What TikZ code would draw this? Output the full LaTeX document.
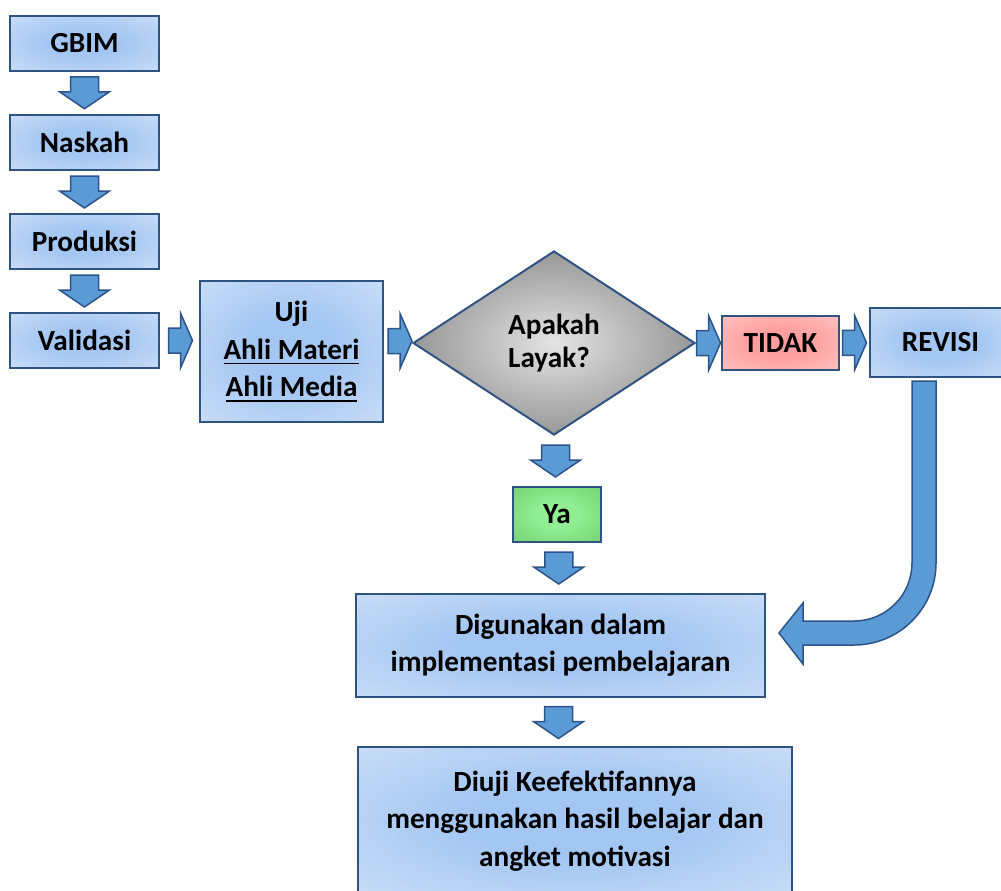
\documentclass[tikz,border=0pt]{standalone}
\usepackage{fontspec}
\setmainfont{Carlito}
\usetikzlibrary{calc, shapes.geometric}
\definecolor{boxline}{RGB}{47,84,130}
\definecolor{boxin}{RGB}{163,198,242}
\definecolor{boxout}{RGB}{224,234,249}
\definecolor{arrowfill}{RGB}{91,155,213}
\definecolor{arrowline}{RGB}{44,83,138}
\definecolor{pinkin}{RGB}{255,158,158}
\definecolor{pinkout}{RGB}{255,214,214}
\definecolor{greenin}{RGB}{146,238,146}
\definecolor{greenout}{RGB}{98,192,98}
\definecolor{greyin}{RGB}{228,228,228}
\definecolor{greyout}{RGB}{118,118,118}

\pgfdeclareradialshading{boxglow}{\pgfpoint{0bp}{0bp}}{color(0bp)=(boxin); color(12bp)=(boxin); color(50bp)=(boxout)}
\pgfdeclareradialshading{pinkglow}{\pgfpoint{0bp}{0bp}}{color(0bp)=(pinkin); color(12bp)=(pinkin); color(50bp)=(pinkout)}
\pgfdeclareradialshading{greenglow}{\pgfpoint{0bp}{0bp}}{color(0bp)=(greenin); color(12bp)=(greenin); color(50bp)=(greenout)}
\pgfdeclareradialshading{greyglow}{\pgfpoint{0bp}{0bp}}{color(0bp)=(greyin); color(36bp)=(greyout); color(50bp)=(greyout)}

\newcommand{\thickul}[1]{\setbox0\hbox{#1}\rlap{\rule[-2.6pt]{\wd0}{0.9pt}}\box0}

\begin{document}
\begin{tikzpicture}[x=0.5pt, y=-0.5pt,
    stepbox/.style={draw=boxline, line width=1pt, shading=boxglow, inner sep=0pt, align=center, font=\bfseries\fontsize{14.6}{18.6}\selectfont},
    smallbox/.style={stepbox, minimum width=74.5pt, minimum height=27.5pt},
    blkarrow/.style={draw=arrowline, line width=0.75pt, fill=arrowfill},
    downarr/.pic={\draw[blkarrow] (-14,-16) -- (-14,-1) -- (-25,-1) -- (0,16) -- (25,-1) -- (14,-1) -- (14,-16) -- cycle;},
    rightarr/.pic={\draw[blkarrow] (-12,-12.5) -- (0,-12.5) -- (0,-27.5) -- (12,0) -- (0,27.5) -- (0,12.5) -- (-12,12.5) -- cycle;}]
    \useasboundingbox (0,0) rectangle (1001,890);
    \clip (0,0) rectangle (1001,890);

    % Left column
    \node[smallbox] (gbim) at (84.5,43) {GBIM};
    \node[smallbox] (naskah) at (84.5,142.5) {Naskah};
    \node[smallbox] (produksi) at (84.5,241.5) {Produksi};
    \node[smallbox] (validasi) at (84.5,340.5) {Validasi};

    % Test and decision
    \node[stepbox, minimum width=91.5pt, minimum height=70.5pt] (uji) at (291.5,351.5) {Uji\\\thickul{Ahli Materi}\\\thickul{Ahli Media}};
    \node[diamond, aspect=1.5, draw=boxline, line width=1pt, shading=greyglow, inner sep=0pt, minimum width=141pt, minimum height=92pt, align=left, font=\bfseries\fontsize{14.6}{16.5}\selectfont] (layak) at (554,343) {Apakah\\Layak?};

    % Outcomes
    \node[stepbox, shading=pinkglow, minimum width=58.5pt, minimum height=27pt] (tidak) at (780.5,343) {TIDAK};
    \node[stepbox, minimum width=70.5pt, minimum height=34.5pt] (revisi) at (940.5,342.5) {REVISI};
    \node[stepbox, shading=greenglow, minimum width=44pt, minimum height=27.5pt] (ya) at (557,514.5) {Ya};

    % Implementation
    \node[stepbox, minimum width=204.5pt, minimum height=51.5pt] (digunakan) at (560.5,645.5) {Digunakan dalam\\implementasi pembelajaran};
    \node[stepbox, minimum width=217pt, minimum height=74pt] (diuji) at (575,821) {Diuji Keefektifannya\\menggunakan hasil belajar dan\\angket motivasi};

    % Block arrows
    \pic at ($(gbim.south)!0.5!(naskah.north)$) {downarr};
    \pic at ($(naskah.south)!0.5!(produksi.north)$) {downarr};
    \pic at ($(produksi.south)!0.5!(validasi.north)$) {downarr};
    \pic at ($(validasi.east)+(20.5,0)$) {rightarr};
    \pic at ($(layak.west)+(-12,-2)$) {rightarr};
    \pic at ($(layak.east)!0.5!(tidak.west)$) {rightarr};
    \pic at ($(tidak.east)!0.5!(revisi.west)$) {rightarr};
    \pic at ($(layak.south)!0.5!(ya.north)$) {downarr};
    \pic at ($(ya.south)!0.5!(digunakan.north)$) {downarr};
    \pic at ($(digunakan.south)+(-2,24.5)$) {downarr};

    % Curved arrow from revisi back
    \draw[blkarrow] (912,381) -- (912,563) arc[start angle=0, end angle=90, radius=58] -- (803,621) -- (803,603) -- (779,633) -- (803,664) -- (803,645) -- (854,645) arc[start angle=90, end angle=0, radius=82] -- (936,381) -- cycle;
\end{tikzpicture}
\end{document}
